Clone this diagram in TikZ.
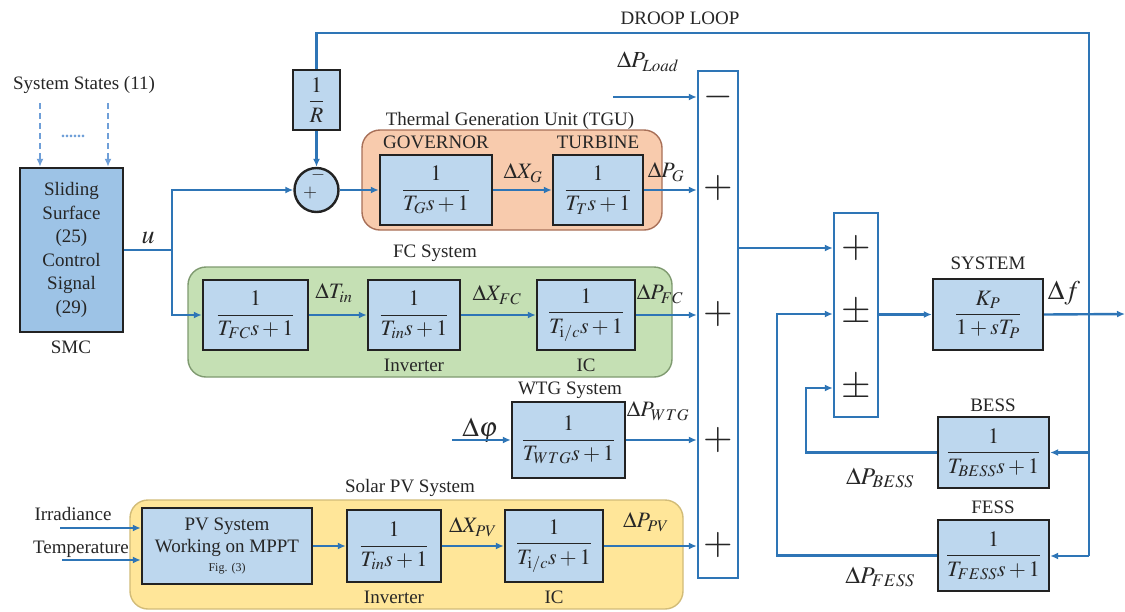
\documentclass[tikz,border=0pt]{standalone}
\usepackage{mathptmx}
\usepackage{fontspec}
\setmainfont{Liberation Serif}
\usetikzlibrary{arrows.meta}
\definecolor{lblue}{HTML}{2E75B6}
\definecolor{dblue}{HTML}{6F9FD8}
\definecolor{bfill}{HTML}{BDD7EE}
\definecolor{smcfill}{HTML}{9DC3E6}
\definecolor{bdr}{HTML}{222222}
\definecolor{tdark}{HTML}{262626}
\definecolor{tgufill}{HTML}{F8CBAD}
\definecolor{tgubdr}{HTML}{A87058}
\definecolor{fcfill}{HTML}{C5E0B4}
\definecolor{fcbdr}{HTML}{7F9A70}
\definecolor{pvfill}{HTML}{FFE699}
\definecolor{pvbdr}{HTML}{D2BC78}
\newcommand\fsz[2]{\fontsize{#1}{#2}\selectfont}
\tikzset{
  blk/.style={draw=bdr, fill=bfill, line width=2.4pt, inner sep=0pt, text=tdark, font={\fsz{22}{26}}},
  lnk/.style={draw=lblue, line width=2.4pt},
  arr/.style={lnk, -{Latex[length=8pt,width=7pt]}},
  lbl/.style={inner sep=0pt, text=tdark, font={\fsz{19}{23}}},
  ml/.style={inner sep=0pt, text=tdark, font={\fsz{22}{26}}},
  sgn/.style={inner sep=0pt, text=tdark, font={\fsz{38}{40}}},
  grp/.style={rounded corners=18pt, line width=1.4pt, inner sep=0pt},
  sumbar/.style={draw=lblue, fill=white, line width=2.4pt, inner sep=0pt},
}
\begin{document}
\begin{tikzpicture}[x=1pt,y=-1pt]
\useasboundingbox (0,0) rectangle (1125,611);
\fill[white] (0,0) rectangle (1125,611);

% group backgrounds
\node[grp, fill=tgufill, draw=tgubdr, minimum width=300pt, minimum height=100pt] (tgu) at (512,180) {};
\node[grp, fill=fcfill, draw=fcbdr, minimum width=484pt, minimum height=110pt] (fcg) at (430,322) {};
\node[grp, fill=pvfill, draw=pvbdr, minimum width=553pt, minimum height=109pt] (pvg) at (406.5,554.5) {};

% labels of groups
\node[lbl] (droopl) at (680,18) {DROOP LOOP};
\node[lbl] (tgul) at (510,121) {Thermal Generation Unit (TGU)};
\node[lbl] (fcl) at (435,253) {FC System};
\node[lbl] (wtgl) at (570,390) {WTG System};
\node[lbl] (pvl) at (410,488) {Solar PV System};
\node[lbl] (sysl) at (988,263) {SYSTEM};
\node[lbl] (bessl) at (993,405) {BESS};
\node[lbl] (fessl) at (993,507) {FESS};
\node[lbl] (govl) at (436,142) {GOVERNOR};
\node[lbl] (turl) at (598,142) {TURBINE};
\node[lbl] (inv1l) at (414,365) {Inverter};
\node[lbl] (ic1l) at (586,365) {IC};
\node[lbl] (inv2l) at (394,597) {Inverter};
\node[lbl] (ic2l) at (554,597) {IC};
\node[lbl] (smcl) at (71,347) {SMC};
\node[lbl] (ssl) at (84,85) {System States (11)};
\node[lbl] (irrl) at (73,514) {Irradiance};
\node[lbl] (teml) at (81,549) {Temperature};
\node[inner sep=0pt, text=dblue, font={\fsz{16}{18}\bfseries}] (dots) at (73,136) {......};

% SMC
\node[blk, fill=smcfill, minimum width=103pt, minimum height=164pt, align=center, font={\fsz{19}{23.5}}] (smc) at (71.5,250) {Sliding\\Surface\\(25)\\Control\\Signal\\(29)};
\coordinate (ss1) at (40,103);
\coordinate (ss2) at (108,103);
\draw[arr, draw=dblue, line width=1.8pt, dashed, dash pattern=on 6pt off 4pt] (ss1) -- (ss1 |- smc.north);
\draw[arr, draw=dblue, line width=1.8pt, dashed, dash pattern=on 6pt off 4pt] (ss2) -- (ss2 |- smc.north);

% droop gain and summing junction
\node[blk, minimum width=47pt, minimum height=60pt] (rbox) at (316.5,100) {$\displaystyle\frac{1}{R}$};
\node[circle, draw=bdr, fill=bfill, line width=2.4pt, minimum size=44pt, inner sep=0pt] (circ) at (316.5,190) {};
\node[inner sep=0pt, text=tdark, font={\fsz{18}{20}}] (cminus) at (318,175) {$-$};
\node[inner sep=0pt, text=tdark, font={\fsz{18}{20}}] (cplus) at (310,193) {$+$};

% TGU blocks
\node[blk, minimum width=112pt, minimum height=70pt] (gov) at (436,190) {$\displaystyle\frac{1}{T_G s+1}$};
\node[blk, minimum width=90pt, minimum height=70pt] (tur) at (598,190) {$\displaystyle\frac{1}{T_T s+1}$};

% FC blocks
\node[blk, minimum width=105pt, minimum height=70pt] (fc1) at (255.5,315) {$\displaystyle\frac{1}{T_{FC} s+1}$};
\node[blk, minimum width=92pt, minimum height=70pt] (fc2) at (414,315) {$\displaystyle\frac{1}{T_{in} s+1}$};
\node[blk, minimum width=98pt, minimum height=70pt] (fc3) at (586,315) {$\displaystyle\frac{1}{T_{\mathrm{i}/c} s+1}$};

% WTG
\node[blk, minimum width=113pt, minimum height=76pt] (wtg) at (568.5,440) {$\displaystyle\frac{1}{T_{WTG} s+1}$};

% PV
\node[blk, minimum width=170pt, minimum height=76pt, align=center, font={\fsz{19}{22}}] (pvb) at (227,546) {PV System\\Working on MPPT\\[-3pt]{\fsz{12}{14}Fig. (3)}};
\node[blk, minimum width=94pt, minimum height=72pt] (pv2) at (394,546) {$\displaystyle\frac{1}{T_{in} s+1}$};
\node[blk, minimum width=98pt, minimum height=72pt] (pv3) at (554,546) {$\displaystyle\frac{1}{T_{\mathrm{i}/c} s+1}$};

% summing bars
\node[sumbar, minimum width=40pt, minimum height=507pt] (sum1) at (718,324.5) {};
\node[sumbar, minimum width=44pt, minimum height=204pt] (sum2) at (856,315) {};
\node[sgn] (s1a) at (718,97) {$-$};
\node[sgn] (s1b) at (718,188) {$+$};
\node[sgn] (s1c) at (718,314) {$+$};
\node[sgn] (s1d) at (718,440) {$+$};
\node[sgn] (s1e) at (718,545) {$+$};
\node[sgn] (s2a) at (856,248) {$+$};
\node[sgn] (s2b) at (856,313) {$\pm$};
\node[sgn] (s2c) at (856,388) {$\pm$};

% system and storage
\node[blk, minimum width=110pt, minimum height=71pt] (sys) at (988,314.5) {$\displaystyle\frac{K_P}{1+sT_P}$};
\node[blk, minimum width=111pt, minimum height=71pt] (bess) at (993.5,452.5) {$\displaystyle\frac{1}{T_{BESS} s+1}$};
\node[blk, minimum width=111pt, minimum height=71pt] (fess) at (993.5,555.5) {$\displaystyle\frac{1}{T_{FESS} s+1}$};

% signal labels
\node[ml, font={\fsz{26}{30}}] (ul) at (148,238) {$u$};
\node[ml] (dxg) at (523,173) {$\Delta X_G$};
\node[ml] (dpg) at (666,172) {$\Delta P_G$};
\node[ml, font={\fsz{23}{27}}] (dpl) at (648,62) {$\Delta P_{Load}$};
\node[ml] (dti) at (334,293) {$\Delta T_{in}$};
\node[ml] (dxfc) at (497,295) {$\Delta X_{FC}$};
\node[ml] (dpfc) at (660,294) {$\Delta P_{FC}$};
\node[ml, font={\fsz{27}{30}}] (dphi) at (480,430) {$\Delta\varphi$};
\node[ml] (dpw) at (658,411) {$\Delta P_{WTG}$};
\node[ml] (dxpv) at (473,527) {$\Delta X_{PV}$};
\node[ml] (dppv) at (646,522) {$\Delta P_{PV}$};
\node[ml, font={\fsz{27}{30}}] (df) at (1064,293) {$\Delta f$};
\node[ml, font={\fsz{24}{27}}] (dpb) at (880,478) {$\Delta P_{BESS}$};
\node[ml, font={\fsz{24}{27}}] (dpf) at (880,577) {$\Delta P_{FESS}$};

% coordinates
\coordinate (j1) at (172,250);
\coordinate (dtop) at (1089,33);
\coordinate (dbot) at (1089,556);
\coordinate (lstart) at (613,97);
\coordinate (s1out) at (738,248);
\coordinate (fout) at (1125,314);
\coordinate (bk) at (806,388);
\coordinate (fk) at (777,314);
\coordinate (phin) at (452,440);
\coordinate (irin) at (60,528);
\coordinate (tein) at (62,560);

% connectors
\draw[lnk] (smc.east |- j1) -- (j1);
\draw[arr] (j1) |- (circ.west);
\draw[arr] (j1) |- (fc1.west);
\draw[arr] (rbox.south) -- (circ.north);
\draw[lnk] (rbox.north) |- (dtop) -- (dbot);
\draw[arr] (circ.east) -- (gov.west);
\draw[arr] (gov.east) -- (tur.west);
\draw[arr] (tur.east) -- (sum1.west |- tur.east);
\draw[arr] (lstart) -- (sum1.west |- lstart);
\draw[arr] (fc1.east) -- (fc2.west);
\draw[arr] (fc2.east) -- (fc3.west);
\draw[arr] (fc3.east) -- (sum1.west |- fc3.east);
\draw[arr] (phin) -- (wtg.west);
\draw[arr] (wtg.east) -- (sum1.west |- wtg.east);
\draw[arr] (irin) -- (pvb.west |- irin);
\draw[arr] (tein) -- (pvb.west |- tein);
\draw[arr] (pvb.east) -- (pv2.west);
\draw[arr] (pv2.east) -- (pv3.west);
\draw[arr] (pv3.east) -- (sum1.west |- pv3.east);
\draw[arr] (sum1.east |- s1out) -- (sum2.west |- s1out);
\draw[arr] (sum2.east |- sys.west) -- (sys.west);
\draw[arr] (sys.east) -- (fout);
\draw[arr] (dtop |- bess.east) -- (bess.east);
\draw[arr] (dbot) -- (fess.east |- dbot);
\draw[arr] (bess.west) -| (bk) -- (sum2.west |- bk);
\draw[arr] (fess.west) -| (fk) -- (sum2.west |- fk);
\end{tikzpicture}
\end{document}
